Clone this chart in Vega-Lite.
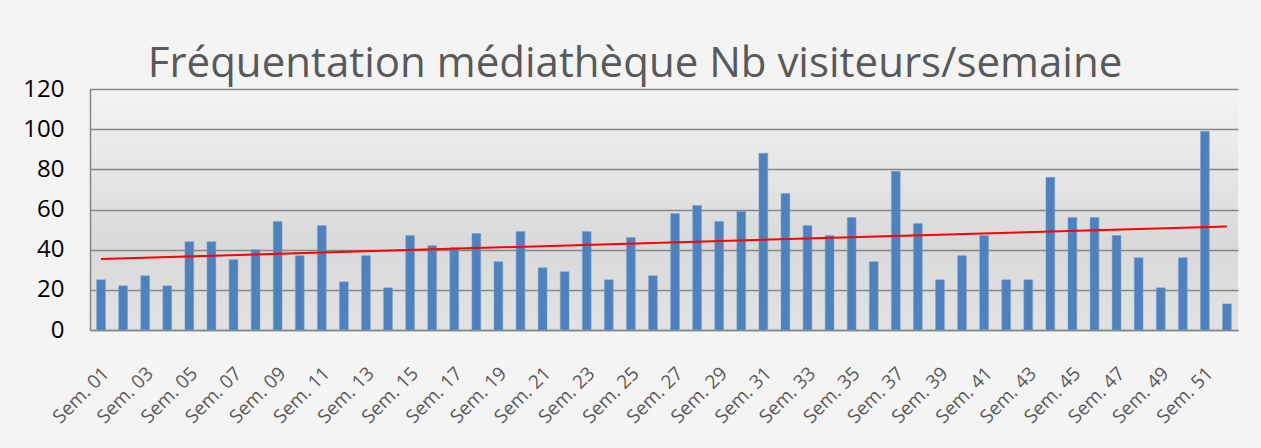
{
  "$schema": "https://vega.github.io/schema/vega-lite/v6.json",
  "autosize": {"type": "none"},
  "width": 1148,
  "height": 241,
  "padding": {"left": 90, "top": 89, "right": 23, "bottom": 118},
  "background": "#f4f4f4",
  "title": {
    "text": "Fréquentation médiathèque Nb visiteurs/semaine",
    "font": "Open Sans",
    "fontSize": 42,
    "fontWeight": "normal",
    "color": "#595959",
    "anchor": "middle",
    "frame": "group",
    "offset": 8,
    "dx": -29,
    "dy": 17
  },
  "config": {
    "view": {
      "stroke": null,
      "fill": {
        "gradient": "linear",
        "x1": 0, "y1": 0, "x2": 0, "y2": 1,
        "stops": [
          {"offset": 0, "color": "#f3f3f3"},
          {"offset": 0.65, "color": "#d9d9d9"},
          {"offset": 1, "color": "#e2e2e2"}
        ]
      }
    }
  },
  "data": {
    "values": [
      {"semaine": "Sem. 01", "n": 1, "visiteurs": 25},
      {"semaine": "Sem. 02", "n": 2, "visiteurs": 22},
      {"semaine": "Sem. 03", "n": 3, "visiteurs": 27},
      {"semaine": "Sem. 04", "n": 4, "visiteurs": 22},
      {"semaine": "Sem. 05", "n": 5, "visiteurs": 44},
      {"semaine": "Sem. 06", "n": 6, "visiteurs": 44},
      {"semaine": "Sem. 07", "n": 7, "visiteurs": 35},
      {"semaine": "Sem. 08", "n": 8, "visiteurs": 40},
      {"semaine": "Sem. 09", "n": 9, "visiteurs": 54},
      {"semaine": "Sem. 10", "n": 10, "visiteurs": 37},
      {"semaine": "Sem. 11", "n": 11, "visiteurs": 52},
      {"semaine": "Sem. 12", "n": 12, "visiteurs": 24},
      {"semaine": "Sem. 13", "n": 13, "visiteurs": 37},
      {"semaine": "Sem. 14", "n": 14, "visiteurs": 21},
      {"semaine": "Sem. 15", "n": 15, "visiteurs": 47},
      {"semaine": "Sem. 16", "n": 16, "visiteurs": 42},
      {"semaine": "Sem. 17", "n": 17, "visiteurs": 41},
      {"semaine": "Sem. 18", "n": 18, "visiteurs": 48},
      {"semaine": "Sem. 19", "n": 19, "visiteurs": 34},
      {"semaine": "Sem. 20", "n": 20, "visiteurs": 49},
      {"semaine": "Sem. 21", "n": 21, "visiteurs": 31},
      {"semaine": "Sem. 22", "n": 22, "visiteurs": 29},
      {"semaine": "Sem. 23", "n": 23, "visiteurs": 49},
      {"semaine": "Sem. 24", "n": 24, "visiteurs": 25},
      {"semaine": "Sem. 25", "n": 25, "visiteurs": 46},
      {"semaine": "Sem. 26", "n": 26, "visiteurs": 27},
      {"semaine": "Sem. 27", "n": 27, "visiteurs": 58},
      {"semaine": "Sem. 28", "n": 28, "visiteurs": 62},
      {"semaine": "Sem. 29", "n": 29, "visiteurs": 54},
      {"semaine": "Sem. 30", "n": 30, "visiteurs": 59},
      {"semaine": "Sem. 31", "n": 31, "visiteurs": 88},
      {"semaine": "Sem. 32", "n": 32, "visiteurs": 68},
      {"semaine": "Sem. 33", "n": 33, "visiteurs": 52},
      {"semaine": "Sem. 34", "n": 34, "visiteurs": 47},
      {"semaine": "Sem. 35", "n": 35, "visiteurs": 56},
      {"semaine": "Sem. 36", "n": 36, "visiteurs": 34},
      {"semaine": "Sem. 37", "n": 37, "visiteurs": 79},
      {"semaine": "Sem. 38", "n": 38, "visiteurs": 53},
      {"semaine": "Sem. 39", "n": 39, "visiteurs": 25},
      {"semaine": "Sem. 40", "n": 40, "visiteurs": 37},
      {"semaine": "Sem. 41", "n": 41, "visiteurs": 47},
      {"semaine": "Sem. 42", "n": 42, "visiteurs": 25},
      {"semaine": "Sem. 43", "n": 43, "visiteurs": 25},
      {"semaine": "Sem. 44", "n": 44, "visiteurs": 76},
      {"semaine": "Sem. 45", "n": 45, "visiteurs": 56},
      {"semaine": "Sem. 46", "n": 46, "visiteurs": 56},
      {"semaine": "Sem. 47", "n": 47, "visiteurs": 47},
      {"semaine": "Sem. 48", "n": 48, "visiteurs": 36},
      {"semaine": "Sem. 49", "n": 49, "visiteurs": 21},
      {"semaine": "Sem. 50", "n": 50, "visiteurs": 36},
      {"semaine": "Sem. 51", "n": 51, "visiteurs": 99},
      {"semaine": "Sem. 52", "n": 52, "visiteurs": 13}
    ]
  },
  "layer": [
    {
      "mark": {"type": "bar", "color": "#4f81bd", "stroke": "#7aa0cf", "strokeWidth": 0.5},
      "encoding": {
        "x": {
          "field": "semaine",
          "type": "ordinal",
          "sort": null,
          "scale": {"paddingInner": 0.6, "paddingOuter": 0.3},
          "axis": {
            "title": null,
            "values": ["Sem. 01","Sem. 03","Sem. 05","Sem. 07","Sem. 09","Sem. 11","Sem. 13","Sem. 15","Sem. 17","Sem. 19","Sem. 21","Sem. 23","Sem. 25","Sem. 27","Sem. 29","Sem. 31","Sem. 33","Sem. 35","Sem. 37","Sem. 39","Sem. 41","Sem. 43","Sem. 45","Sem. 47","Sem. 49","Sem. 51"],
            "labelAngle": -45,
            "labelAlign": "right",
            "labelBaseline": "middle",
            "labelFont": "Open Sans",
            "labelFontSize": 19,
            "labelColor": "#595959",
            "labelPadding": 40,
            "labelOffset": 5,
            "labelOverlap": false,
            "ticks": false,
            "domainColor": "#868686",
            "domainWidth": 1.5,
            "grid": false
          }
        },
        "y": {
          "field": "visiteurs",
          "type": "quantitative",
          "scale": {"domain": [0, 120], "nice": false},
          "axis": {
            "title": null,
            "values": [0, 20, 40, 60, 80, 100, 120],
            "labelFont": "Open Sans",
            "labelFontSize": 24,
            "labelColor": "#000000",
            "labelPadding": 26,
            "ticks": false,
            "domainColor": "#868686",
            "domainWidth": 1.5,
            "gridColor": "#868686",
            "gridWidth": 1.5
          }
        }
      }
    },
    {
      "transform": [{"regression": "visiteurs", "on": "n"}],
      "mark": {"type": "line", "color": "#ff0000", "strokeWidth": 2},
      "encoding": {
        "x": {
          "field": "n",
          "type": "quantitative",
          "scale": {"domain": [0.5, 52.5], "nice": false, "zero": false},
          "axis": null
        },
        "y": {"field": "visiteurs", "type": "quantitative"}
      }
    }
  ],
  "resolve": {"scale": {"x": "independent"}}
}
